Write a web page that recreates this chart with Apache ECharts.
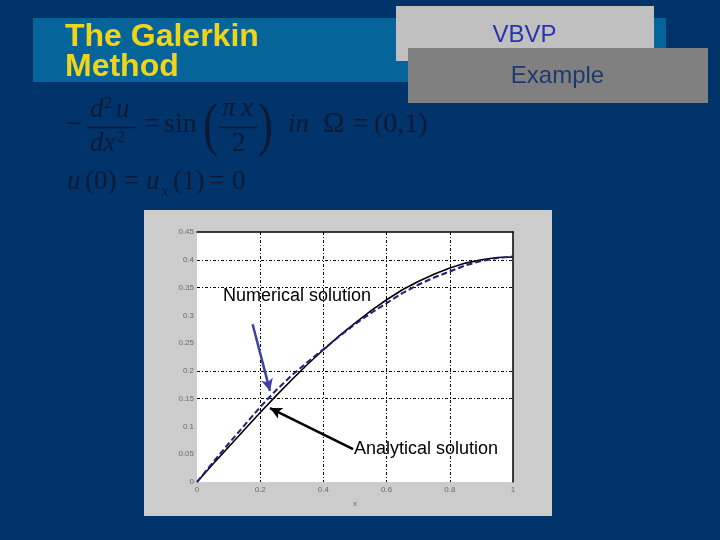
<!DOCTYPE html>
<html><head><meta charset="utf-8">
<script src="https://cdn.jsdelivr.net/npm/echarts@6/dist/echarts.min.js"></script>
<style>html,body{margin:0;padding:0;background:#02346c;}#c{width:720px;height:540px;}</style>
</head><body><div id="c"></div>
<script>
// ---- data ----
const xValues = [0,0.05,0.1,0.15,0.2,0.25,0.3,0.35,0.4,0.45,0.5,0.55,0.6,0.65,0.7,0.75,0.8,0.85,0.9,0.95,1];
const analytical = [0,0.032,0.063,0.094,0.125,0.155,0.184,0.212,0.238,0.263,0.286,0.308,0.328,0.346,0.361,0.374,0.385,0.394,0.400,0.404,0.405];
const numerical  = [0,0.035,0.069,0.102,0.135,0.165,0.192,0.216,0.239,0.262,0.284,0.304,0.322,0.340,0.355,0.368,0.379,0.390,0.398,0.403,0.406];
const xTickValues = [0,0.2,0.4,0.6,0.8,1];
const xTickLabels = ['0','0.2','0.4','0.6','0.8','1'];
const yTickValues = [0,0.05,0.1,0.15,0.2,0.25,0.3,0.35,0.4,0.45];
const yTickLabels = ['0','0.05','0.1','0.15','0.2','0.25','0.3','0.35','0.4','0.45'];
const xGridVisible = [false,true,true,true,true,false];
const yGridVisible = [false,false,false,true,true,false,false,true,true,false];
const numericalArrow = [[0.176,0.284],[0.231,0.164]];
const analyticalArrow = [[0.494,0.059],[0.231,0.133]];
const numericalLabelAt = [0.082,0.335];
const analyticalLabelAt = [0.497,0.059];

function labelFor(values, labels){
  return function(v){
    const i = values.findIndex(t => Math.abs(t - v) < 1e-6);
    return i >= 0 ? labels[i] : '';
  };
}

const EQ = '#0e1a34';
const serif = "'Liberation Serif','Times New Roman',serif";
const sans = "'Liberation Sans',Arial,sans-serif";
function T(text, x, base, size, opts){
  opts = opts || {};
  return {
    type:'text', z: 5,
    x: x, y: base,
    scaleX: opts.scaleX || 1,
    style:{
      text: text, x: 0, y: -0.32*size,
      font: (opts.italic ? 'italic ' : '') + (opts.bold ? 'bold ' : '') + size + 'px ' + (opts.family || serif),
      fill: opts.color || EQ,
      align: opts.align || 'left',
      verticalAlign: 'middle'
    }
  };
}
function bar(x1, x2, y){
  return {type:'line', z:5, shape:{x1:x1,y1:y,x2:x2,y2:y}, style:{stroke:EQ, lineWidth:1.6}};
}

const graphics = [
  {type:'rect', z:-10, shape:{x:33,y:18,width:633,height:64}, style:{fill:'#05659b'}},
  {type:'rect', z:-9, shape:{x:396,y:6,width:258,height:55}, style:{fill:'#c0c0c0'}},
  {type:'rect', z:-8, shape:{x:408,y:48,width:300,height:55}, style:{fill:'#808080'}},
  {type:'rect', z:-10, shape:{x:144,y:210,width:408,height:306}, style:{fill:'#cccccc'}},
  T('The Galerkin', 65, 47, 32, {bold:true, family:sans, color:'#f0d418'}),
  T('Method', 65, 77, 32, {bold:true, family:sans, color:'#f0d418'}),
  T('VBVP', 524.5, 43, 24, {align:'center', family:sans, color:'#2536ad'}),
  T('Example', 557.5, 84.5, 24, {align:'center', family:sans, color:'#1b3a6d'}),
  // equation line 1
  T('\u2212', 66, 134, 27),
  T('d', 90, 119, 27, {italic:true}),
  T('2', 104, 109, 16),
  T('u', 116, 119, 27, {italic:true}),
  bar(87, 135, 127.5),
  T('dx', 90, 153, 27, {italic:true}),
  T('2', 117, 143, 16),
  T('=', 144, 134, 27),
  T('sin', 164, 134, 28),
  T('(', 203, 147, 60, {scaleX:0.75}),
  T('\u03c0', 222, 118, 27, {italic:true}),
  T('x', 241, 118, 27, {italic:true}),
  bar(219.5, 257, 127.5),
  T('2', 232, 153, 27),
  T(')', 258, 147, 60, {scaleX:0.75}),
  T('in', 288, 134, 27, {italic:true}),
  T('\u03a9', 323, 134, 29),
  T('=', 353, 134, 27),
  T('(0,1)', 374, 134, 28),
  // equation line 2
  T('u', 67, 191, 27, {italic:true}),
  T('(0)', 85, 191, 27),
  T('=', 124, 191, 27),
  T('u', 146, 191, 27, {italic:true}),
  T('x', 161.5, 197, 16, {italic:true}),
  T('(1)', 173, 191, 27),
  T('=', 209, 191, 27),
  T('0', 232, 191, 27)
];

const chart = echarts.init(document.getElementById('c'), null, {renderer:'canvas'});
const tickFont = {fontSize:8, color:'#6a6a6a', fontFamily:sans};
chart.setOption({
  animation:false,
  backgroundColor:'#02346c',
  graphic: graphics,
  grid:{left:197, right:207, top:232, bottom:58, show:true, backgroundColor:'#ffffff', borderWidth:0, containLabel:false},
  xAxis:[
    {type:'value', min:0, max:1, interval:0.2, position:'bottom',
     axisLine:{show:false}, axisTick:{show:false},
     axisLabel:Object.assign({margin:4, formatter:labelFor(xTickValues, xTickLabels)}, tickFont),
     splitLine:{show:true, lineStyle:{color:xGridVisible.map(v => v ? '#000' : 'rgba(0,0,0,0)'), width:1, type:[3,2,1,2]}},
     name:'x', nameLocation:'middle', nameGap:18, nameTextStyle:tickFont},
    {type:'value', min:0, max:1, position:'top',
     axisLine:{show:true, onZero:false, lineStyle:{color:'#000', width:1.5}}, axisTick:{show:false}, axisLabel:{show:false}, splitLine:{show:false}}
  ],
  yAxis:[
    {type:'value', min:0, max:0.45, interval:0.05, position:'left',
     axisLine:{show:false}, axisTick:{show:false},
     axisLabel:Object.assign({margin:3, formatter:labelFor(yTickValues, yTickLabels)}, tickFont),
     splitLine:{show:true, lineStyle:{color:yGridVisible.map(v => v ? '#000' : 'rgba(0,0,0,0)'), width:1, type:[3,2,1,2]}}},
    {type:'value', min:0, max:0.45, position:'right',
     axisLine:{show:true, onZero:false, lineStyle:{color:'#000', width:1.5}}, axisTick:{show:false}, axisLabel:{show:false}, splitLine:{show:false}}
  ],
  series:[
    {name:'Analytical solution', type:'line', xAxisIndex:0, yAxisIndex:0,
     data:xValues.map((x,i)=>[x, analytical[i]]), showSymbol:false, silent:true,
     lineStyle:{color:'#000', width:1.6},
     markLine:{silent:true, symbol:['none','arrow'], symbolSize:[9,12], label:{show:false},
       lineStyle:{color:'#000', width:2.5, type:'solid'},
       data:[[{coord:analyticalArrow[0]},{coord:analyticalArrow[1]}]]},
     markPoint:{silent:true, symbol:'circle', symbolSize:0,
       data:[{coord:analyticalLabelAt, label:{show:true, position:'right', distance:0, formatter:'Analytical solution',
         color:'#000', fontSize:18, fontFamily:sans}}]}},
    {name:'Numerical solution', type:'line', xAxisIndex:0, yAxisIndex:0,
     data:xValues.map((x,i)=>[x, numerical[i]]), showSymbol:false, silent:true,
     lineStyle:{color:'#1f1f7c', width:2, type:[6,3]},
     markLine:{silent:true, symbol:['none','arrow'], symbolSize:[9,12], label:{show:false},
       lineStyle:{color:'#3f3fa6', width:2.5, type:'solid'},
       data:[[{coord:numericalArrow[0]},{coord:numericalArrow[1]}]]},
     markPoint:{silent:true, symbol:'circle', symbolSize:0,
       data:[{coord:numericalLabelAt, label:{show:true, position:'right', distance:0, formatter:'Numerical solution',
         color:'#000', fontSize:18, fontFamily:sans}}]}}
  ]
});
</script>
</body></html>
